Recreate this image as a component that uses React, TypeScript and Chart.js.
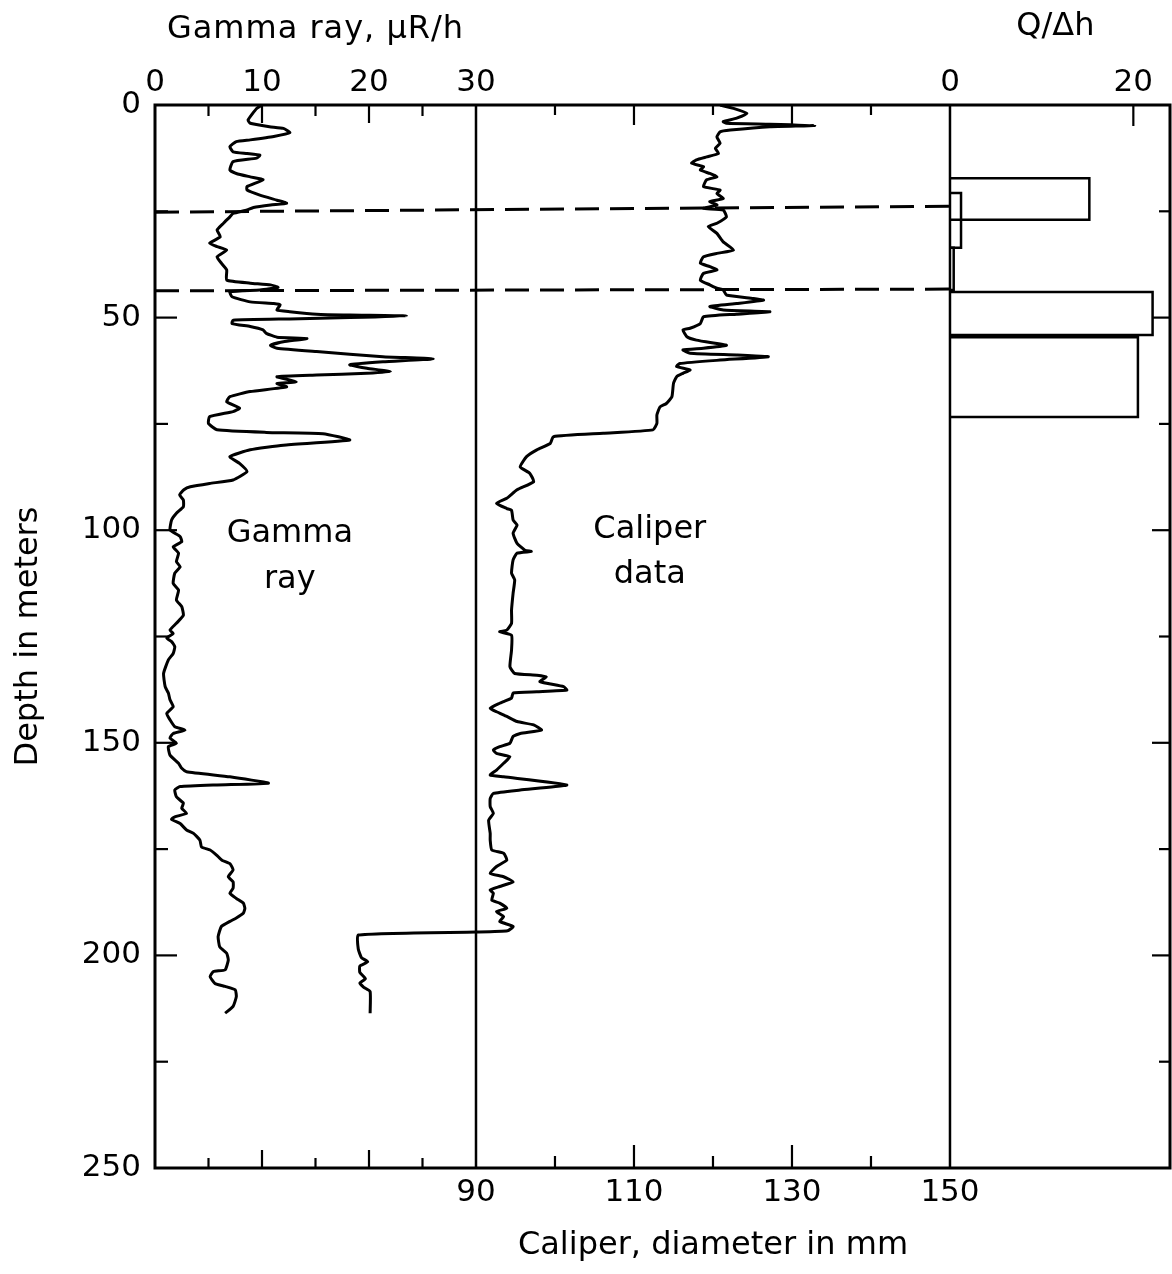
import { useEffect, useRef } from 'react';
import { Chart, registerables } from 'chart.js';

Chart.register(...registerables);

// ---- data ----
// gamma ray log: [depth m, gamma µR/h]
const GAMMA_LOG: [number, number][] = [
  [0.0, 10.0], [0.8, 9.5], [3.5, 8.7], [4.3, 8.9], [5.1, 10.7], [5.5, 12.0], [6.5, 12.6], [7.4, 11.1],
  [8.2, 8.9], [8.6, 7.6], [9.8, 7.0], [11.0, 7.3], [11.4, 8.6], [11.8, 9.8], [12.5, 9.5], [13.3, 7.3],
  [15.3, 7.0], [16.1, 7.6], [16.9, 8.9], [17.6, 10.1], [19.2, 8.6], [20.0, 8.6], [21.2, 9.8], [22.4, 11.4],
  [23.1, 12.3], [23.5, 10.8], [24.1, 9.2], [24.7, 8.6], [25.5, 7.3], [26.3, 7.0], [27.8, 6.4], [29.4, 5.8],
  [31.0, 6.1], [32.5, 5.1], [33.3, 5.8], [34.1, 6.7], [35.7, 5.8], [37.2, 6.2], [38.8, 6.7], [41.2, 6.7],
  [41.9, 8.9], [42.3, 10.8], [42.9, 11.5], [43.5, 9.8], [43.9, 7.0], [45.1, 7.2], [46.3, 8.9], [46.7, 11.1],
  [47.0, 11.7], [48.2, 11.4], [48.6, 12.6], [49.2, 15.1], [49.4, 18.2], [49.6, 23.5], [50.0, 18.2], [50.3, 12.6],
  [50.6, 7.3], [51.4, 7.2], [52.1, 8.9], [52.9, 10.1], [53.7, 10.4], [54.6, 11.4], [54.9, 14.2], [55.7, 12.0],
  [56.5, 10.8], [57.2, 11.4], [58.0, 15.1], [59.2, 21.3], [59.7, 26.0], [60.4, 21.3], [61.1, 18.2], [61.9, 19.8],
  [62.7, 22.0], [63.1, 19.8], [63.5, 15.1], [63.9, 11.4], [65.1, 13.2], [65.5, 11.4], [66.3, 12.3], [67.4, 8.9],
  [68.6, 7.0], [69.8, 6.7], [71.3, 7.9], [72.1, 7.3], [73.3, 5.1], [74.9, 5.0], [76.4, 5.8], [77.0, 10.4],
  [77.3, 15.7], [78.8, 18.2], [80.0, 12.0], [81.1, 8.9], [82.7, 7.0], [84.3, 7.9], [86.2, 8.6], [88.2, 7.3],
  [89.0, 5.1], [89.8, 3.3], [90.5, 2.7], [91.7, 2.3], [92.9, 2.65], [94.5, 2.65], [96.0, 2.0], [97.6, 1.55],
  [99.9, 1.4], [100.7, 1.85], [101.5, 2.35], [102.7, 2.5], [103.9, 1.7], [105.4, 2.2], [107.4, 2.0], [108.6, 2.35],
  [110.1, 1.85], [112.5, 1.7], [114.1, 2.2], [116.4, 2.0], [118.0, 2.5], [120.0, 2.65], [121.9, 2.0], [123.5, 1.4],
  [124.3, 1.7], [125.4, 1.1], [126.2, 1.55], [127.4, 1.85], [129.0, 1.7], [130.5, 1.25], [133.7, 0.8], [136.8, 0.95],
  [138.3, 1.25], [139.9, 1.4], [141.5, 1.7], [143.1, 1.1], [144.6, 1.4], [146.2, 1.85], [147.0, 2.8], [147.8, 1.7],
  [148.9, 1.4], [150.1, 2.0], [150.9, 1.25], [152.9, 1.4], [154.8, 2.2], [156.0, 2.5], [156.8, 2.95], [158.0, 7.0],
  [159.5, 10.6], [159.9, 5.8], [160.3, 2.35], [161.1, 1.85], [162.7, 2.0], [164.2, 2.65], [165.4, 2.5], [166.6, 2.95],
  [167.4, 1.85], [168.0, 1.55], [169.0, 2.35], [170.5, 2.95], [171.3, 3.6], [172.9, 4.2], [174.5, 4.35], [175.2, 5.15],
  [176.4, 5.75], [177.6, 6.25], [178.4, 7.0], [179.9, 7.3], [181.5, 6.85], [182.7, 7.3], [184.2, 7.3], [185.4, 7.0],
  [186.6, 7.6], [187.7, 8.25], [188.9, 8.4], [190.1, 8.25], [191.2, 7.6], [192.0, 7.0], [193.2, 6.2], [195.6, 5.9],
  [198.0, 6.05], [199.5, 6.7], [201.1, 6.85], [203.4, 6.55], [203.8, 5.45], [205.0, 5.15], [206.6, 5.6], [207.3, 6.55],
  [208.1, 7.5], [209.7, 7.6], [212.0, 7.3], [213.6, 6.55],
];

// caliper log: [depth m, diameter mm]
const CALIPER_LOG: [number, number][] = [
  [0.0, 120.9], [0.8, 122.6], [2.0, 124.3], [3.1, 123.0], [3.9, 121.3], [4.3, 121.7], [4.5, 127.2], [4.8, 132.9],
  [5.1, 127.2], [5.9, 122.2], [6.3, 120.9], [7.5, 120.5], [9.0, 120.9], [10.2, 120.3], [11.4, 120.7], [12.2, 119.2],
  [12.9, 117.9], [13.7, 117.3], [14.5, 118.8], [15.3, 118.4], [16.1, 119.6], [16.9, 120.5], [17.6, 119.2], [19.2, 118.8],
  [20.0, 120.9], [20.8, 120.5], [22.0, 121.3], [22.7, 119.6], [23.5, 120.5], [24.3, 118.8], [24.7, 121.3], [26.3, 121.7],
  [27.8, 120.5], [28.6, 119.4], [30.2, 120.5], [32.2, 121.3], [34.1, 122.6], [34.9, 120.5], [35.7, 118.8], [37.2, 118.4],
  [38.0, 119.6], [38.8, 120.5], [39.6, 118.8], [41.2, 118.4], [42.3, 119.6], [43.1, 120.5], [43.5, 121.3], [44.7, 121.7],
  [45.5, 125.1], [45.9, 126.4], [46.7, 123.0], [47.4, 119.6], [48.2, 121.3], [48.6, 127.2], [49.2, 123.0], [49.8, 118.8],
  [51.4, 118.4], [52.5, 117.1], [52.9, 116.2], [54.5, 116.7], [55.3, 117.9], [56.1, 120.5], [56.5, 121.7], [57.2, 118.8],
  [57.6, 116.2], [58.4, 117.1], [58.8, 123.0], [59.2, 127.0], [60.0, 120.9], [60.8, 115.8], [61.5, 115.4], [62.3, 117.1],
  [63.1, 116.2], [63.9, 115.4], [65.5, 115.0], [68.6, 114.8], [70.2, 114.1], [71.0, 113.3], [72.9, 112.9], [74.9, 112.9],
  [76.4, 112.4], [77.2, 106.1], [78.0, 99.8], [79.6, 99.4], [81.1, 97.7], [82.7, 96.4], [85.1, 95.6], [86.6, 96.8],
  [88.6, 97.3], [90.5, 95.2], [92.5, 93.9], [93.7, 92.6], [94.9, 93.9], [95.3, 94.5], [97.6, 94.7], [98.8, 95.2],
  [100.7, 94.7], [103.1, 95.2], [104.7, 96.2], [105.0, 97.0], [105.4, 95.2], [107.0, 94.7], [110.1, 94.5], [111.7, 94.9],
  [114.8, 94.7], [118.8, 94.5], [121.9, 94.5], [123.5, 93.9], [123.9, 93.0], [124.7, 94.5], [128.2, 94.5], [132.1, 94.3],
  [133.7, 94.9], [134.1, 97.7], [134.5, 98.9], [135.6, 98.1], [136.8, 101.1], [137.6, 101.5], [138.0, 97.7], [138.3, 94.7],
  [139.5, 94.5], [140.3, 93.5], [140.7, 93.0], [141.9, 91.8], [142.7, 92.6], [143.8, 93.9], [145.0, 95.2], [145.8, 97.3],
  [147.0, 98.3], [147.8, 95.6], [148.5, 94.7], [150.1, 94.3], [150.9, 93.0], [151.7, 92.2], [152.5, 92.6], [153.3, 94.3],
  [154.8, 93.5], [156.4, 92.6], [157.6, 91.8], [158.0, 93.5], [159.9, 101.5], [161.1, 95.6], [161.9, 92.2], [163.1, 91.8],
  [165.0, 91.8], [166.6, 92.2], [168.2, 91.6], [171.3, 91.8], [172.9, 91.8], [175.2, 92.0], [176.0, 93.5], [177.6, 93.9],
  [179.1, 92.6], [180.7, 91.8], [181.5, 93.5], [182.7, 94.7], [183.8, 93.0], [184.6, 91.8], [185.4, 92.2], [187.0, 92.0],
  [187.7, 93.0], [188.9, 93.9], [189.7, 92.6], [190.9, 93.5], [192.0, 93.0], [193.2, 94.7], [194.2, 94.0], [194.5, 90.0],
  [195.2, 75.1], [198.5, 75.1], [200.5, 75.5], [201.5, 76.3], [202.5, 75.3], [204.0, 75.3], [205.5, 76.0], [206.5, 75.3],
  [207.5, 75.8], [208.5, 76.6], [213.6, 76.6],
];

// Q/Δh intervals
const Q_TOP_DEPTH = [17.2, 20.7, 33.6, 44.0, 54.6];
const Q_BOTTOM_DEPTH = [27.0, 33.6, 43.5, 54.1, 73.4];
const Q_VALUE = [15.2, 1.2, 0.4, 22.1, 20.5];

// dashed marker lines: depth at left edge and at caliper 150
const DASH_LEFT_DEPTH = [25.2, 43.7];
const DASH_RIGHT_DEPTH = [23.8, 43.3];

// tick labels / marks
const DEPTH_STEP = 50;
const GAMMA_TICKS = [0, 10, 20, 30];
const CALIPER_TICKS = [90, 110, 130, 150];
const Q_TICKS = [0, 20];
const GAMMA_MINOR_TICKS = [5, 15, 25];
const GAMMA_MAJOR_TICKS = [10, 20];
const CAL_MINOR_TICKS = [100, 120, 140];
const CAL_MAJOR_TICKS = [110, 130];
const Q_MAJOR_TICKS = [20];
const DEPTH_MINOR_TICKS = [25, 75, 125, 175, 225];
const DEPTH_MAJOR_TICKS = [50, 100, 150, 200];

// axis windows (each track scale spans the whole plot width)
const GAMMA_AXIS = { min: 0, max: 94.86 };
const CAL_AXIS = { min: 49.37, max: 177.85 };
const Q_AXIS = { min: -86.74, max: 24.0 };

const FONT = 'DejaVu Sans';
const TICK_SIZE = 31;
const TOP_TICK_PAD = 3;

const decor = {
  id: 'decor',
  afterDatasetsDraw(chart: any) {
    const { ctx, chartArea: a, scales } = chart;
    const xg = scales.xg, xc = scales.xc, xq = scales.xq, y = scales.y;
    ctx.save();
    ctx.strokeStyle = '#000';
    ctx.lineWidth = 3;
    ctx.strokeRect(a.left, a.top, a.right - a.left, a.bottom - a.top);
    const seg = (x1: number, y1: number, x2: number, y2: number) => {
      ctx.beginPath();
      ctx.moveTo(x1, y1);
      ctx.lineTo(x2, y2);
      ctx.stroke();
    };
    const g30 = xg.getPixelForValue(30);
    const c150 = xc.getPixelForValue(150);
    ctx.lineWidth = 2.5;
    seg(g30, a.top, g30, a.bottom);
    seg(c150, a.top, c150, a.bottom);

    ctx.lineWidth = 2.2;
    GAMMA_MINOR_TICKS.forEach((v) => { const p = xg.getPixelForValue(v); seg(p, a.top, p, a.top + 11); seg(p, a.bottom, p, a.bottom - 10); });
    GAMMA_MAJOR_TICKS.forEach((v) => { const p = xg.getPixelForValue(v); seg(p, a.top, p, a.top + 18); seg(p, a.bottom, p, a.bottom - 18); });
    CAL_MINOR_TICKS.forEach((v) => { const p = xc.getPixelForValue(v); seg(p, a.top, p, a.top + 10); seg(p, a.bottom, p, a.bottom - 12); });
    CAL_MAJOR_TICKS.forEach((v) => { const p = xc.getPixelForValue(v); seg(p, a.top, p, a.top + 20); seg(p, a.bottom, p, a.bottom - 23); });
    Q_MAJOR_TICKS.forEach((v) => { const p = xq.getPixelForValue(v); seg(p, a.top, p, a.top + 21); });
    DEPTH_MINOR_TICKS.forEach((v) => { const p = y.getPixelForValue(v); seg(a.left, p, a.left + 13, p); seg(a.right, p, a.right - 11, p); });
    DEPTH_MAJOR_TICKS.forEach((v) => { const p = y.getPixelForValue(v); seg(a.left, p, a.left + 22, p); seg(a.right, p, a.right - 18, p); });

    ctx.fillStyle = '#000';
    // Q/Δh tick labels share the row of the gamma tick labels
    ctx.textAlign = 'center';
    ctx.textBaseline = 'middle';
    ctx.font = `${TICK_SIZE}px "${FONT}"`;
    const rowY = a.top - TOP_TICK_PAD - (TICK_SIZE * 1.2) / 2;
    Q_TICKS.forEach((v) => ctx.fillText(String(v), xq.getPixelForValue(v), rowY));

    ctx.textBaseline = 'alphabetic';
    ctx.font = `32px "${FONT}"`;
    (ctx as any).letterSpacing = '1px';
    ctx.fillText('Gamma ray, \u00b5R/h', xg.getPixelForValue(15), a.top - 67);
    (ctx as any).letterSpacing = '0px';
    ctx.fillText('Q/\u0394h', xq.getPixelForValue(11.5), a.top - 70);
    ctx.fillText('Caliper, diameter in mm', xc.getPixelForValue(120), a.bottom + 86);
    ctx.fillText('Gamma', xg.getPixelForValue(12.6), y.getPixelForValue(102.8));
    ctx.fillText('ray', xg.getPixelForValue(12.6), y.getPixelForValue(113.6));
    ctx.fillText('Caliper', xc.getPixelForValue(112), y.getPixelForValue(101.8));
    ctx.fillText('data', xc.getPixelForValue(112), y.getPixelForValue(112.4));
    ctx.restore();
  },
};

const whiteBg = {
  id: 'whiteBg',
  beforeDraw(chart: any) {
    const { ctx, width, height } = chart;
    ctx.save();
    ctx.fillStyle = '#fff';
    ctx.fillRect(0, 0, width, height);
    ctx.restore();
  },
};

const fixedTicks = (vals: number[]) => (s: any) => {
  s.ticks = vals.map((v) => ({ value: v }));
};

export default function App() {
  const ref = useRef<HTMLCanvasElement | null>(null);

  useEffect(() => {
    if (!ref.current) return;
    Chart.defaults.font.family = FONT;
    Chart.defaults.color = '#000';

    const lineStyle = {
      showLine: true,
      pointRadius: 0,
      borderColor: '#000',
      borderWidth: 3,
      fill: false,
    };

    const datasets: any[] = [
      {
        ...lineStyle,
        label: 'Gamma ray',
        xAxisID: 'xg',
        yAxisID: 'y',
        tension: 0.15,
        data: GAMMA_LOG.map(([d, g]) => ({ x: g, y: d })),
      },
      {
        ...lineStyle,
        label: 'Caliper',
        xAxisID: 'xc',
        yAxisID: 'y',
        tension: 0.15,
        data: CALIPER_LOG.map(([d, c]) => ({ x: c, y: d })),
      },
      ...Q_VALUE.map((q, i) => ({
        ...lineStyle,
        borderWidth: 2.5,
        label: `Q${i}`,
        xAxisID: 'xq',
        yAxisID: 'y',
        tension: 0,
        data: [
          { x: 0, y: Q_TOP_DEPTH[i] },
          { x: q, y: Q_TOP_DEPTH[i] },
          { x: q, y: Q_BOTTOM_DEPTH[i] },
          { x: 0, y: Q_BOTTOM_DEPTH[i] },
        ],
      })),
      ...DASH_LEFT_DEPTH.map((d, i) => ({
        ...lineStyle,
        borderWidth: 3,
        borderDash: [24, 11],
        label: `dash${i}`,
        xAxisID: 'xc',
        yAxisID: 'y',
        tension: 0,
        data: [
          { x: CAL_AXIS.min, y: d },
          { x: 150, y: DASH_RIGHT_DEPTH[i] },
        ],
      })),
    ];

    const hiddenGrid = { display: false, drawTicks: false };
    const tickFont = { size: TICK_SIZE, family: FONT };

    const chart = new Chart(ref.current, {
      type: 'scatter',
      data: { datasets },
      options: {
        animation: false,
        responsive: false,
        layout: { padding: { left: 0, top: 0, right: 2, bottom: 0 } },
        plugins: { legend: { display: false }, tooltip: { enabled: false } },
        scales: {
          y: {
            type: 'linear',
            axis: 'y',
            position: 'left',
            reverse: true,
            min: 0,
            max: 250,
            bounds: 'data',
            ticks: { stepSize: DEPTH_STEP, font: tickFont, color: '#000', padding: 14 },
            grid: hiddenGrid,
            border: { display: false },
            title: {
              display: true,
              text: 'Depth in meters',
              color: '#000',
              font: { size: 32, family: FONT },
              padding: { top: 9, bottom: 0 },
            },
            afterFit: (s: any) => { s.width = 155; },
          },
          xg: {
            type: 'linear',
            axis: 'x',
            position: 'top',
            weight: 1,
            min: GAMMA_AXIS.min,
            max: GAMMA_AXIS.max,
            bounds: 'data',
            afterBuildTicks: fixedTicks(GAMMA_TICKS),
            ticks: { font: tickFont, color: '#000', padding: TOP_TICK_PAD, maxRotation: 0, autoSkip: false },
            grid: hiddenGrid,
            border: { display: false },
            afterFit: (s: any) => { s.height = 105; },
          },
          xq: {
            type: 'linear',
            axis: 'x',
            position: 'top',
            weight: 0,
            min: Q_AXIS.min,
            max: Q_AXIS.max,
            bounds: 'data',
            afterBuildTicks: fixedTicks(Q_TICKS),
            ticks: { display: false },
            grid: hiddenGrid,
            border: { display: false },
            afterFit: (s: any) => { s.height = 0; },
          },
          xc: {
            type: 'linear',
            axis: 'x',
            position: 'bottom',
            min: CAL_AXIS.min,
            max: CAL_AXIS.max,
            bounds: 'data',
            afterBuildTicks: fixedTicks(CALIPER_TICKS),
            ticks: { font: tickFont, color: '#000', padding: 6, maxRotation: 0, autoSkip: false },
            grid: hiddenGrid,
            border: { display: false },
            afterFit: (s: any) => { s.height = 106; },
          },
        },
      } as any,
      plugins: [whiteBg, decor],
    });

    return () => chart.destroy();
  }, []);

  return (
    <div style={{ position: 'absolute', left: 0, top: 0, width: 1172, height: 1274, background: '#fff' }}>
      <canvas ref={ref} width={1172} height={1274} style={{ display: 'block', width: 1172, height: 1274 }} />
    </div>
  );
}
